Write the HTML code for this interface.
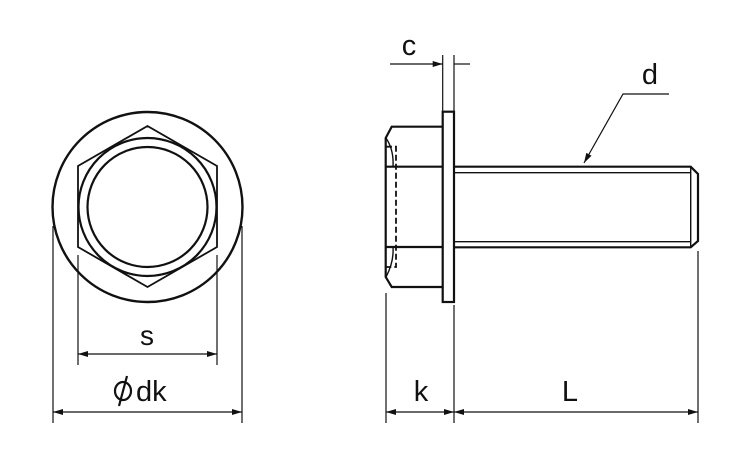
<!DOCTYPE html>
<html><head><style>html,body{margin:0;padding:0;background:#fff}svg{display:block}text{font-family:"Liberation Sans",sans-serif;fill:#111}</style></head>
<body>
<svg width="750" height="450" viewBox="0 0 750 450" xmlns="http://www.w3.org/2000/svg">
<defs>
<marker id="a" viewBox="0 0 10 6" refX="10" refY="3" markerWidth="12" markerHeight="6" orient="auto-start-reverse" markerUnits="userSpaceOnUse"><path d="M0,0L10,3L0,6z" fill="#111"/></marker>
</defs>
<g fill="none" stroke="#111">
<circle cx="147.5" cy="207" r="95" stroke-width="2.4"/>
<polygon points="147.5,126 217,166 217,247 147.5,287 78,247 78,166" stroke-width="1.8"/>
<circle cx="147.5" cy="207" r="69" stroke-width="2.2"/>
<circle cx="147.5" cy="207" r="60" stroke-width="2.2"/>
<g stroke-width="1.2">
<line x1="78" y1="255" x2="78" y2="365"/><line x1="217" y1="255" x2="217" y2="365"/>
<line x1="53" y1="226" x2="53" y2="423"/><line x1="242" y1="226" x2="242" y2="423"/>
<line x1="78" y1="354" x2="217" y2="354" marker-start="url(#a)" marker-end="url(#a)"/>
<line x1="53" y1="412" x2="242" y2="412" marker-start="url(#a)" marker-end="url(#a)"/>
</g>
<g stroke-width="2.2">
<rect x="442.7" y="111.7" width="11.3" height="190.3"/>
<path d="M442.7,126.7H391.7L385.7,138V277L391.7,287H442.7"/>
<line x1="386" y1="166.7" x2="442.7" y2="166.7"/>
<line x1="386" y1="247" x2="442.7" y2="247"/>
<path d="M454,166.7H690.7L698,174V241L690.7,247.3H454"/>
</g>
<g stroke-width="1.4">
<path d="M386,138Q394,150 393,166.7M386,277Q394,262 393,247"/>
<line x1="454" y1="172.7" x2="690.7" y2="172.7"/>
<line x1="454" y1="241.7" x2="690.7" y2="241.7"/>
<line x1="690.7" y1="166.7" x2="690.7" y2="247.3"/>
<path d="M386,146.7H396V267H386" stroke-dasharray="6,3" stroke-width="1.8"/>
</g>
<g stroke-width="1.2">
<line x1="442.7" y1="55" x2="442.7" y2="111"/><line x1="454" y1="55" x2="454" y2="111"/>
<line x1="390" y1="64" x2="442.7" y2="64" marker-end="url(#a)"/>
<line x1="454" y1="64" x2="470" y2="64"/>
<path d="M669,94H623L584,163" marker-end="url(#a)"/>
<line x1="386" y1="293" x2="386" y2="423"/><line x1="454" y1="305" x2="454" y2="423"/><line x1="698" y1="251" x2="698" y2="423"/>
<line x1="386" y1="412" x2="454" y2="412" marker-start="url(#a)" marker-end="url(#a)"/>
<line x1="454" y1="412" x2="698" y2="412" marker-start="url(#a)" marker-end="url(#a)"/>
</g>
<ellipse cx="123" cy="391" rx="8" ry="9" stroke-width="2.2"/>
<line x1="127" y1="376" x2="119" y2="406" stroke-width="2.2"/>
</g>
<text x="147" y="345" font-size="28" text-anchor="middle">s</text>
<text x="136" y="401" font-size="29">dk</text>
<text x="421" y="401" font-size="29" text-anchor="middle">k</text>
<text x="570" y="401" font-size="29" text-anchor="middle">L</text>
<text x="409" y="55" font-size="29" text-anchor="middle">c</text>
<text x="650" y="84" font-size="29" text-anchor="middle">d</text>
</svg>
</body></html>
